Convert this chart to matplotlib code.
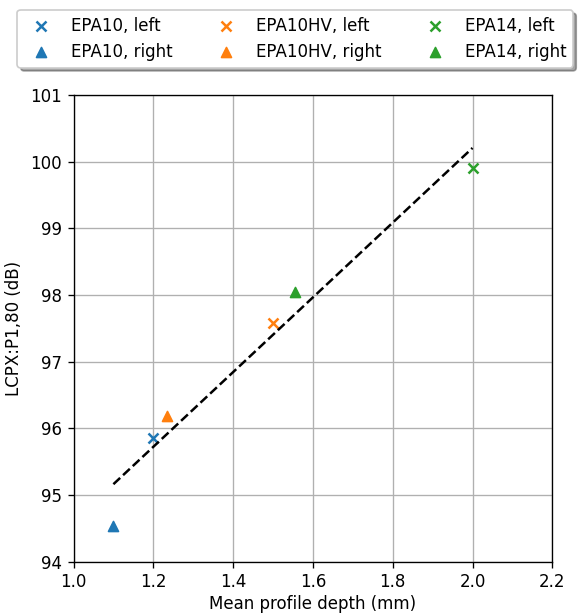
import numpy as np
import matplotlib
matplotlib.use("Agg")
import matplotlib.pyplot as plt

labels = ["EPA10", "EPA10HV", "EPA14"]
colors = ["tab:blue", "tab:orange", "tab:green"]
mpd_left = [1.2, 1.5, 2.0]
lcpx_left = [95.86, 97.58, 99.90]
mpd_right = [1.1, 1.234, 1.555]
lcpx_right = [94.54, 96.19, 98.05]

# rendered at 120 dpi so that fonts and markers come out a bit bigger
fig = plt.figure(figsize=(578/120, 614/120), dpi=120)
ax = fig.add_axes([73.5/578, 1 - 561.7/614, 478.8/578, 466.7/614])

for i, lab in enumerate(labels):
    ax.scatter(mpd_left[i], lcpx_left[i], marker="x", color=colors[i], label=lab + ", left")
    ax.scatter(mpd_right[i], lcpx_right[i], marker="^", color=colors[i], label=lab + ", right")

# linear fit through all points
x_all = np.array(mpd_left + mpd_right)
y_all = np.array(lcpx_left + lcpx_right)
p = np.polyfit(x_all, y_all, 1)
xs = np.linspace(1.1, 2.0, 10)
ax.plot(xs, np.polyval(p, xs), "k--")

ax.set_xlim(1.0, 2.2)
ax.set_ylim(94, 101)
ax.grid(True)
ax.set_axisbelow(True)
ax.set_xlabel("Mean profile depth (mm)", labelpad=2)
ax.set_ylabel("LCPX:P1,80 (dB)")

h, l = ax.get_legend_handles_labels()
ax.legend(h, l, ncol=3, shadow=True, loc="lower center",
          bbox_to_anchor=(0.463, 1.041), columnspacing=2.2)

fig.savefig("out.png")
